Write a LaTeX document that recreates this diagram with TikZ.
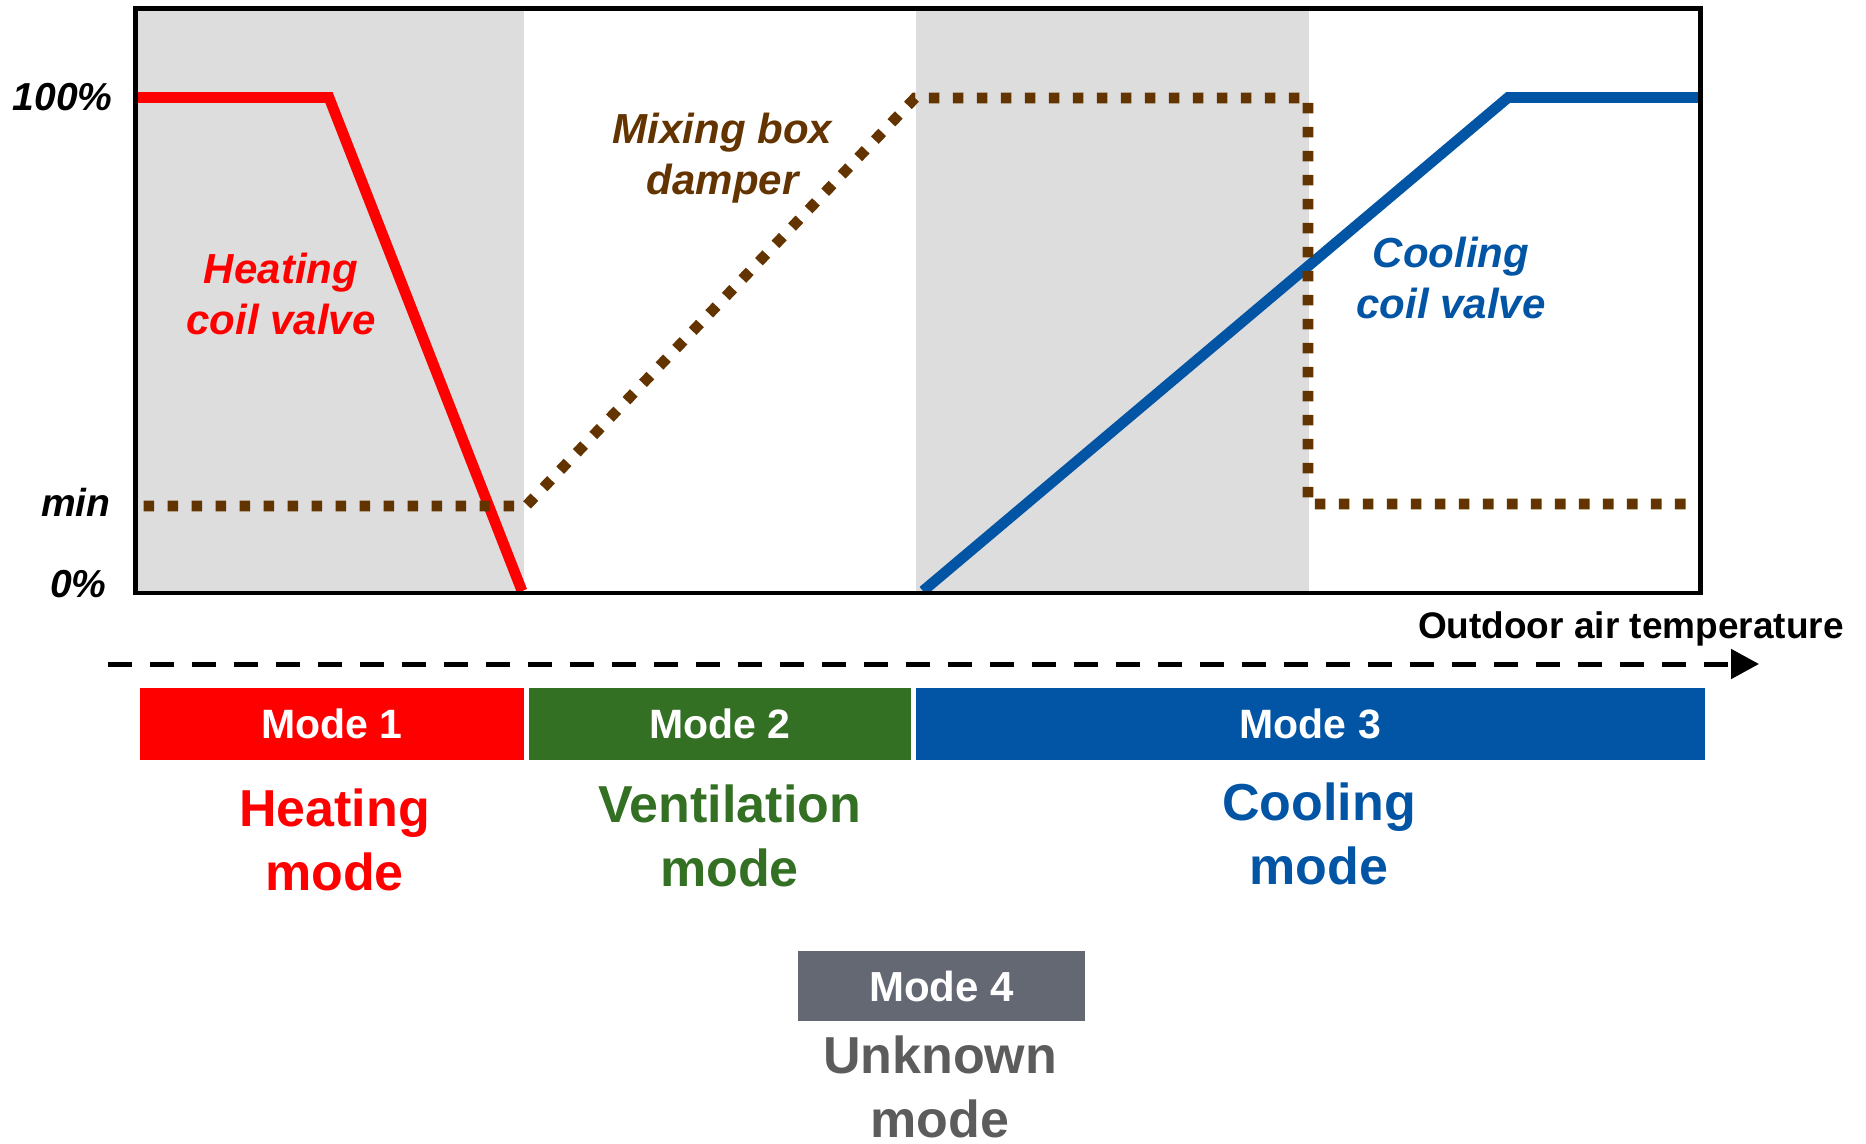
\documentclass[tikz,border=0pt]{standalone}
\usepackage{fontspec}
\setmainfont{Liberation Sans}
\usetikzlibrary{arrows.meta}

\definecolor{heatred}{HTML}{FF0000}
\definecolor{ventgreen}{HTML}{337024}
\definecolor{coolblue}{HTML}{0254A5}
\definecolor{damperbrown}{HTML}{633300}
\definecolor{bandgray}{HTML}{DDDDDD}
\definecolor{unkbox}{HTML}{636873}
\definecolor{unktext}{HTML}{5C5C5C}

\begin{document}
\begin{tikzpicture}[x=0.5pt,y=-0.5pt,
  valve/.style={line width=5.35pt},
  damper/.style={line width=5.35pt, damperbrown, dash pattern=on 5.35pt off 6.65pt},
  frame/.style={line width=2.3pt, draw=black},
  levellab/.style={font=\fontsize{19.5}{23}\selectfont\bfseries\itshape, inner sep=0pt, anchor=base east},
  curvelab/.style={font=\fontsize{21}{25.5}\selectfont\bfseries\itshape, align=center, inner sep=0pt, anchor=base},
  modebox/.style={minimum height=36pt, inner sep=0pt, text=white,
                  font=\fontsize{20.5}{24}\selectfont\bfseries},
  modename/.style={font=\fontsize{26}{32}\selectfont\bfseries, align=center, inner sep=0pt, anchor=base},
  axisarrow/.style={line width=2.5pt, dash pattern=on 12pt off 9pt,
                    -{Triangle[length=14pt,width=14.5pt]}}
]
\useasboundingbox (0,0) rectangle (1866,1144);

% operating bands behind the curves
\fill[bandgray] (135.5,8.5) rectangle (524,593);
\fill[bandgray] (916,8.5) rectangle (1309,593);

% heating coil valve
\draw[valve, heatred] (135.5,97.6) -- (329,97.6) -- (522,591);
% cooling coil valve
\draw[valve, coolblue] (923,591) -- (1508,97.6) -- (1698,97.6);
% mixing box damper
\draw[damper] (143.5,506) -- (526,506) -- (915,98) -- (1308,98) -- (1308,504) -- (1690,504);

% chart frame
\draw[frame] (135.5,8.5) rectangle (1700.5,593);

% level labels
\node[levellab] (l100) at (113,111) {100\%};
\node[levellab] (lmin) at (111,516.6) {min};
\node[levellab] (l0) at (107,597) {0\%};

% curve labels (anchored at the baseline of the last line)
\node[curvelab, text=heatred] (heatlab) at (281,335) {Heating\\coil valve};
\node[curvelab, text=damperbrown] (mixlab) at (722.5,195) {Mixing box\\damper};
\node[curvelab, text=coolblue] (coollab) at (1451,319) {Cooling\\coil valve};

% temperature axis
\coordinate (axS) at (108,664);
\coordinate (axE) at (1759,664);
\draw[axisarrow] (axS) -- (axE);
\node[font=\fontsize{18.5}{22}\selectfont\bfseries, inner sep=0pt, anchor=base east] (axlab) at (1844,638) {Outdoor air temperature};

% mode bars
\node[modebox, fill=heatred, minimum width=192pt] (m1) at (332,724) {Mode 1};
\node[modebox, fill=ventgreen, minimum width=191pt] (m2) at (720,724) {Mode 2};
\node[modebox, fill=coolblue, minimum width=394.75pt] (m3) at (1310.25,724) {Mode 3};
\node[modebox, fill=unkbox, minimum width=143.5pt, minimum height=35pt,
      font=\fontsize{21}{24}\selectfont\bfseries] (m4) at (941.5,986) {Mode 4};

% mode names
\node[modename, text=heatred] (n1) at (334.5,890) {Heating\\mode};
\node[modename, text=ventgreen] (n2) at (729.5,886) {Ventilation\\mode};
\node[modename, text=coolblue] (n3) at (1319,884) {Cooling\\mode};
\node[modename, text=unktext] (n4) at (940,1137) {Unknown\\mode};
\end{tikzpicture}
\end{document}
